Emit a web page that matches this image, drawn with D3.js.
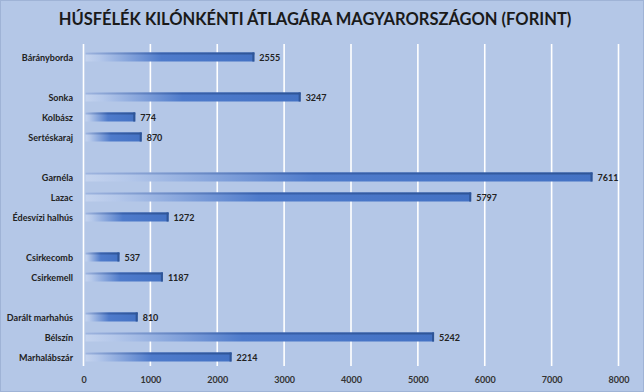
<!DOCTYPE html>
<html><head><meta charset="utf-8">
<script src="https://cdn.jsdelivr.net/npm/d3@7/dist/d3.min.js"></script>
<style>body{margin:0;background:#B4C7E7;}svg{display:block;}</style>
</head><body><svg id="c" width="644" height="392"></svg>
<script>
const title = "HÚSFÉLÉK KILÓNKÉNTI ÁTLAGÁRA MAGYARORSZÁGON (FORINT)";
const categories = ["Bárányborda","","Sonka","Kolbász","Sertéskaraj","","Garnéla","Lazac","Édesvízi halhús","","Csirkecomb","Csirkemell","","Darált marhahús","Bélszín","Marhalábszár"];
const values = [2555,null,3247,774,870,null,7611,5797,1272,null,537,1187,null,810,5242,2214];
const xTicks = [0,1000,2000,3000,4000,5000,6000,7000,8000];

const svg = d3.select("#c");
const W = 644, H = 392;
svg.append("rect").attr("width",W).attr("height",H).attr("fill","#B4C7E7");
svg.append("rect").attr("x",0.5).attr("y",0.5).attr("width",W-1).attr("height",H-1).attr("fill","none").attr("stroke","#9fb3d6");

svg.append("text").attr("x",315).attr("y",25).attr("text-anchor","middle")
  .attr("font-family","Lato").attr("font-weight","bold").attr("font-size",16.5)
  .attr("fill","#1a1a1a").text(title);

const x = d3.scaleLinear().domain([0,8000]).range([83.5,618.5]);
const idx = d3.range(categories.length);
const y = d3.scaleBand().domain(idx).range([47,367]).paddingInner(0.55).paddingOuter(0.275);

// gridlines
svg.append("g").selectAll("line").data(xTicks).join("line")
  .attr("x1",d=>x(d)).attr("x2",d=>x(d)).attr("y1",44).attr("y2",366)
  .attr("stroke","#ffffff").attr("stroke-width",1.6);

// x axis labels
const xAxis = d3.axisBottom(x).tickValues(xTicks).tickFormat(d3.format("d")).tickSize(0).tickPadding(0);
const gx = svg.append("g").attr("transform","translate(0,383)").call(xAxis);
gx.select(".domain").remove();
gx.selectAll("text").attr("font-family","Lato").attr("font-weight","bold").attr("font-size",9).attr("fill","#333").attr("dy",0);

// gradients
const defs = svg.append("defs");
const grad = defs.append("linearGradient").attr("id","bg").attr("x1","0").attr("x2","1").attr("y1","0").attr("y2","0");
grad.append("stop").attr("offset","0%").attr("stop-color","#c4d3ee");
grad.append("stop").attr("offset","8%").attr("stop-color","#b5c8ea");
grad.append("stop").attr("offset","45%").attr("stop-color","#4f7bcb");
grad.append("stop").attr("offset","100%").attr("stop-color","#4472C4");
const gradTop = defs.append("linearGradient").attr("id","tg").attr("x1","0").attr("x2","1").attr("y1","0").attr("y2","0");
gradTop.append("stop").attr("offset","0%").attr("stop-color","#9fb5df");
gradTop.append("stop").attr("offset","45%").attr("stop-color","#3a62ad");
gradTop.append("stop").attr("offset","100%").attr("stop-color","#2F5597");

const data = idx.filter(i=>values[i]!=null).map(i=>({i, c:categories[i], v:values[i]}));
const bh = 9;
const g = svg.append("g");
const bars = g.selectAll("g.bar").data(data).join("g").attr("class","bar");
bars.append("rect").attr("x",x(0)+2).attr("y",d=>y(d.i)+y.bandwidth()/2-bh/2)
  .attr("width",d=>x(d.v)-x(0)-2).attr("height",bh).attr("fill","url(#bg)");
bars.append("rect").attr("x",x(0)+2).attr("y",d=>y(d.i)+y.bandwidth()/2-bh/2)
  .attr("width",d=>x(d.v)-x(0)-2).attr("height",2).attr("fill","url(#tg)");
bars.append("rect").attr("x",d=>x(d.v)-2).attr("y",d=>y(d.i)+y.bandwidth()/2-bh/2)
  .attr("width",2).attr("height",bh).attr("fill","#2F5597");
bars.append("text").attr("x",d=>x(d.v)+5).attr("y",d=>y(d.i)+y.bandwidth()/2+3.5)
  .attr("font-family","Lato").attr("font-weight","bold").attr("font-size",9).attr("fill","#222").text(d=>d.v);

// category labels
g.selectAll("text.cat").data(data).join("text").attr("class","cat")
  .attr("x",73).attr("y",d=>y(d.i)+y.bandwidth()/2+3.5).attr("text-anchor","end")
  .attr("font-family","Lato").attr("font-weight","bold").attr("font-size",9).attr("fill","#222").text(d=>d.c);
</script></body></html>
